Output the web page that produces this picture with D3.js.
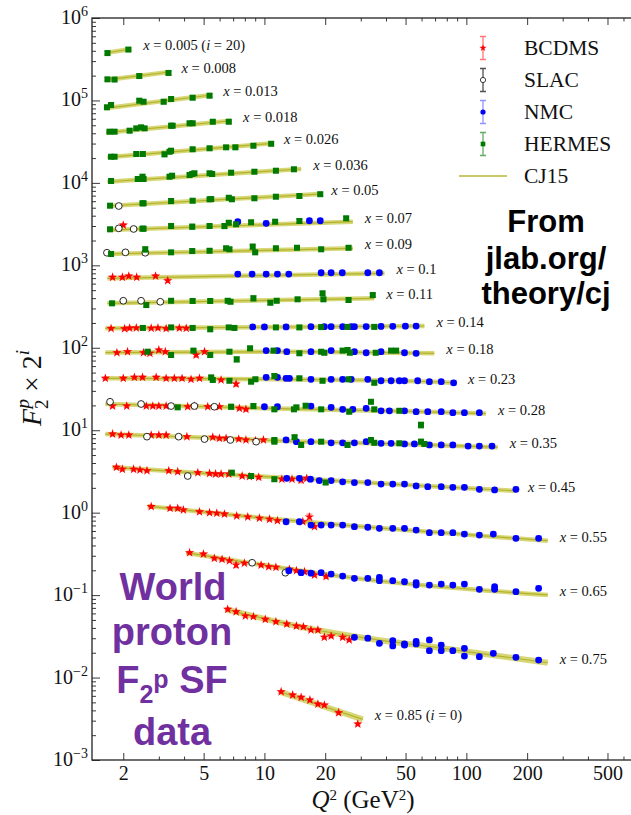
<!DOCTYPE html>
<html>
<head>
<meta charset="utf-8">
<script src="https://cdn.jsdelivr.net/npm/d3@7"></script>
<style>
  html, body { margin: 0; padding: 0; background: #fff; }
  svg { display: block; }
</style>
</head>
<body>
<svg id="chart" width="631" height="815"></svg>
<script>
// x bins, shown top to bottom, and the power i of the 2^i offset
const xBins = [0.005, 0.008, 0.013, 0.018, 0.026, 0.036, 0.05, 0.07, 0.09, 0.1, 0.11,
               0.14, 0.18, 0.23, 0.28, 0.35, 0.45, 0.55, 0.65, 0.75, 0.85];
const powers = [20, 19, 18, 17, 16, 15, 14, 13, 12, 11, 10, 9, 8, 7, 6, 5, 4, 3, 2, 1, 0];

// CJ15 curve for each bin: [Q2, F2] nodes
const cj15 = [
  [[1.63, 0.359], [2.19, 0.401]],
  [[1.64, 0.338], [3.39, 0.422]],
  [[1.63, 0.306], [5.45, 0.444]],
  [[1.645, 0.310], [6.84, 0.433]],
  [[1.67, 0.312], [10.9, 0.461]],
  [[1.67, 0.315], [15.2, 0.450]],
  [[1.67, 0.320], [18.7, 0.447]],
  [[1.67, 0.327], [27.4, 0.413]],
  [[1.67, 0.335], [27.4, 0.393]],
  [[1.67, 0.340], [39.3, 0.391]],
  [[1.67, 0.338], [35.0, 0.389]],
  [[1.63, 0.336], [62.0, 0.359]],
  [[1.63, 0.342], [12, 0.350], [69.4, 0.335]],
  [[1.63, 0.333], [4.77, 0.330], [14.9, 0.322], [46.6, 0.311], [88.9, 0.294]],
  [[1.63, 0.325], [4.77, 0.303], [14.9, 0.282], [46.6, 0.267], [125, 0.249]],
  [[1.63, 0.281], [4.77, 0.255], [14.9, 0.228], [46.6, 0.213], [143, 0.194]],
  [[1.77, 0.222], [4.77, 0.189], [14.9, 0.162], [46.6, 0.137], [176, 0.115]],
  [[2.64, 0.150], [8.27, 0.112], [24.4, 0.0885], [75.1, 0.0714], [253, 0.0571]],
  [[4.10, 0.0817], [11.4, 0.0548], [27.9, 0.0403], [253, 0.0251]],
  [[6.46, 0.0336], [17.0, 0.0194], [32.4, 0.0149], [75.1, 0.0114], [253, 0.00756]],
  [[11.9, 0.00673], [30.7, 0.00311]]
];

// measurements: [x, Q2, F2, error (optional)]
const bcdms = [
  [0.07, 2.0, 0.376],
  [0.1, 1.77, 0.350], [0.1, 1.98, 0.350], [0.1, 2.13, 0.362], [0.1, 2.33, 0.350], [0.1, 2.89, 0.362], [0.1, 3.32, 0.318, 0.015],
  [0.14, 1.74, 0.335], [0.14, 2.03, 0.333], [0.14, 2.15, 0.338], [0.14, 2.32, 0.340], [0.14, 2.75, 0.337], [0.14, 2.97, 0.340],
  [0.14, 3.26, 0.334], [0.14, 3.79, 0.338], [0.14, 4.10, 0.336],
  [0.18, 1.86, 0.340], [0.18, 2.10, 0.350], [0.18, 2.52, 0.340], [0.18, 2.71, 0.335], [0.18, 3.0, 0.367], [0.18, 3.23, 0.350],
  [0.18, 4.59, 0.319, 0.015], [0.18, 5.05, 0.350],
  [0.23, 1.63, 0.333], [0.23, 2.0, 0.333], [0.23, 2.27, 0.342], [0.23, 2.49, 0.342], [0.23, 2.91, 0.342], [0.23, 3.26, 0.333],
  [0.23, 3.58, 0.333], [0.23, 3.91, 0.333], [0.23, 4.33, 0.324], [0.23, 4.77, 0.333], [0.23, 6.10, 0.318], [0.23, 7.24, 0.284, 0.015],
  [0.28, 1.77, 0.307], [0.28, 2.08, 0.307], [0.28, 2.60, 0.307], [0.28, 2.80, 0.307], [0.28, 3.0, 0.307], [0.28, 3.26, 0.307],
  [0.28, 4.17, 0.301], [0.28, 4.5, 0.307], [0.28, 5.24, 0.301], [0.28, 5.99, 0.301], [0.28, 7.52, 0.288], [0.28, 8.10, 0.280],
  [0.35, 1.77, 0.281], [0.35, 1.95, 0.273], [0.35, 2.13, 0.273], [0.35, 2.75, 0.273], [0.35, 3.0, 0.273], [0.35, 3.26, 0.273],
  [0.35, 4.13, 0.261], [0.35, 5.55, 0.257], [0.35, 5.99, 0.249], [0.35, 6.46, 0.249], [0.35, 7.46, 0.244], [0.35, 8.10, 0.238],
  [0.35, 9.02, 0.233], [0.35, 9.89, 0.238],
  [0.45, 1.85, 0.222], [0.45, 1.98, 0.210], [0.45, 2.25, 0.210], [0.45, 2.42, 0.206], [0.45, 2.62, 0.202], [0.45, 3.36, 0.202],
  [0.45, 3.72, 0.196], [0.45, 4.68, 0.191], [0.45, 5.35, 0.187], [0.45, 5.73, 0.184], [0.45, 6.10, 0.184], [0.45, 6.66, 0.184],
  [0.45, 7.76, 0.174], [0.45, 8.43, 0.171], [0.45, 9.37, 0.168], [0.45, 12.2, 0.159], [0.45, 13.7, 0.159], [0.45, 15.2, 0.156, 0.012],
  [0.45, 16.2, 0.163],
  [0.55, 2.75, 0.148], [0.55, 3.41, 0.141], [0.55, 3.72, 0.141], [0.55, 3.97, 0.135], [0.55, 4.77, 0.128], [0.55, 5.35, 0.125],
  [0.55, 5.81, 0.123], [0.55, 6.34, 0.120], [0.55, 7.29, 0.114], [0.55, 8.27, 0.111], [0.55, 9.45, 0.107], [0.55, 10.6, 0.104],
  [0.55, 11.6, 0.0998], [0.55, 15.5, 0.0970], [0.55, 16.7, 0.111, 0.009], [0.55, 17.7, 0.0844],
  [0.65, 4.26, 0.0817], [0.65, 4.99, 0.0787], [0.65, 5.65, 0.0698], [0.65, 6.17, 0.0679], [0.65, 6.71, 0.0653], [0.65, 7.24, 0.0579, 0.004],
  [0.65, 7.96, 0.0609], [0.65, 9.63, 0.0579], [0.65, 10.5, 0.0552], [0.65, 11.4, 0.0544], [0.65, 13.3, 0.0514], [0.65, 14.4, 0.0494],
  [0.65, 15.8, 0.0480], [0.65, 17.7, 0.0438], [0.65, 20.2, 0.0419],
  [0.75, 6.58, 0.0336], [0.75, 7.24, 0.0314], [0.75, 8.05, 0.0279], [0.75, 8.82, 0.0274], [0.75, 10.1, 0.0254], [0.75, 11.4, 0.0238],
  [0.75, 12.9, 0.0223], [0.75, 14.4, 0.0211], [0.75, 15.6, 0.0206], [0.75, 17.0, 0.0189], [0.75, 18.4, 0.0189], [0.75, 19.8, 0.0154],
  [0.75, 21.4, 0.0159], [0.75, 24.4, 0.0154], [0.75, 26.3, 0.0143],
  [0.85, 12.1, 0.00673], [0.85, 13.8, 0.00614], [0.85, 15.2, 0.00575], [0.85, 16.8, 0.00534], [0.85, 18.4, 0.00477],
  [0.85, 19.8, 0.00464], [0.85, 23.3, 0.00374], [0.85, 29.0, 0.00273]
];

const slac = [
  [0.05, 1.90, 0.320],
  [0.07, 1.90, 0.343], [0.07, 2.25, 0.337],
  [0.09, 1.66, 0.347], [0.09, 2.05, 0.351], [0.09, 2.57, 0.347],
  [0.11, 2.0, 0.363], [0.11, 2.45, 0.363], [0.11, 3.05, 0.353],
  [0.28, 1.72, 0.346], [0.28, 2.45, 0.325], [0.28, 3.45, 0.307], [0.28, 4.5, 0.307], [0.28, 5.65, 0.301],
  [0.35, 2.62, 0.261], [0.35, 3.76, 0.261], [0.35, 5.05, 0.244], [0.35, 6.78, 0.238], [0.35, 9.10, 0.227],
  [0.45, 4.17, 0.174],
  [0.65, 8.69, 0.0617], [0.65, 12.7, 0.0467]
];

const nmc = [
  [0.07, 7.38, 0.413], [0.07, 10.2, 0.395], [0.07, 16.7, 0.424], [0.07, 18.9, 0.424],
  [0.1, 7.38, 0.383], [0.1, 8.69, 0.383], [0.1, 10.2, 0.383], [0.1, 11.6, 0.383], [0.1, 13.2, 0.383], [0.1, 19.1, 0.397],
  [0.1, 21.4, 0.397], [0.1, 24.3, 0.397], [0.1, 32.5, 0.397], [0.1, 37.1, 0.397],
  [0.14, 8.75, 0.350], [0.14, 10.0, 0.350], [0.14, 12.8, 0.350], [0.14, 17.0, 0.352], [0.14, 19.8, 0.352], [0.14, 21.4, 0.352],
  [0.14, 24.4, 0.352], [0.14, 26.9, 0.352], [0.14, 27.9, 0.352], [0.14, 31.9, 0.353], [0.14, 37.8, 0.355], [0.14, 43.2, 0.356],
  [0.14, 49.9, 0.357], [0.14, 56.4, 0.358],
  [0.18, 10.2, 0.361], [0.18, 11.6, 0.361], [0.18, 12.9, 0.350], [0.18, 17.0, 0.350], [0.18, 21.4, 0.361], [0.18, 27.9, 0.350],
  [0.18, 31.9, 0.340], [0.18, 37.8, 0.350], [0.18, 49.4, 0.340], [0.18, 56.4, 0.335],
  [0.23, 10.2, 0.342], [0.23, 11.6, 0.342], [0.23, 12.8, 0.333], [0.23, 13.3, 0.333], [0.23, 17.0, 0.324], [0.23, 21.4, 0.324],
  [0.23, 24.4, 0.324], [0.23, 26.9, 0.324], [0.23, 32.5, 0.324], [0.23, 37.8, 0.311], [0.23, 42.4, 0.311], [0.23, 46.6, 0.311],
  [0.23, 49.4, 0.311], [0.23, 57.4, 0.311], [0.23, 65.6, 0.303], [0.23, 75.1, 0.303], [0.23, 86.5, 0.294],
  [0.28, 10.0, 0.301], [0.28, 11.6, 0.301], [0.28, 17.0, 0.307], [0.28, 21.4, 0.296], [0.28, 24.4, 0.280], [0.28, 27.4, 0.280],
  [0.28, 31.9, 0.288], [0.28, 37.8, 0.269], [0.28, 41.6, 0.269], [0.28, 49.4, 0.269], [0.28, 56.4, 0.262], [0.28, 64.4, 0.262],
  [0.28, 75.1, 0.262], [0.28, 85.7, 0.255], [0.28, 97.8, 0.255], [0.28, 116, 0.255],
  [0.35, 12.8, 0.238], [0.35, 14.4, 0.227], [0.35, 17.0, 0.227], [0.35, 21.4, 0.220], [0.35, 24.4, 0.220], [0.35, 27.9, 0.220],
  [0.35, 31.9, 0.227], [0.35, 37.8, 0.217], [0.35, 42.4, 0.217], [0.35, 49.4, 0.213], [0.35, 55.3, 0.213], [0.35, 65.6, 0.207],
  [0.35, 75.1, 0.207], [0.35, 85.7, 0.207], [0.35, 102, 0.201], [0.35, 116, 0.201], [0.35, 134, 0.201],
  [0.45, 12.9, 0.163], [0.45, 14.9, 0.163], [0.45, 16.9, 0.159], [0.45, 18.7, 0.153], [0.45, 21.4, 0.153], [0.45, 24.4, 0.148],
  [0.45, 27.9, 0.145], [0.45, 32.5, 0.145], [0.45, 37.8, 0.139], [0.45, 43.2, 0.139], [0.45, 49.4, 0.139], [0.45, 56.4, 0.132],
  [0.45, 64.4, 0.129], [0.45, 75.1, 0.129], [0.45, 85.7, 0.127], [0.45, 97.8, 0.127], [0.45, 116, 0.120], [0.45, 138, 0.118],
  [0.45, 176, 0.120],
  [0.55, 12.8, 0.0970], [0.55, 14.9, 0.0970], [0.55, 17.0, 0.0885], [0.55, 19.1, 0.0885], [0.55, 21.4, 0.0885], [0.55, 24.4, 0.0885],
  [0.55, 27.9, 0.0844], [0.55, 32.5, 0.0832], [0.55, 37.1, 0.0807], [0.55, 43.2, 0.0807], [0.55, 49.4, 0.0807], [0.55, 56.4, 0.0770],
  [0.55, 65.6, 0.0714], [0.55, 75.1, 0.0714], [0.55, 85.7, 0.0714], [0.55, 97.8, 0.0688], [0.55, 116, 0.0669], [0.55, 136, 0.0688],
  [0.55, 176, 0.0610], [0.55, 228, 0.0610],
  [0.65, 13.2, 0.0494], [0.65, 15.2, 0.0467], [0.65, 17.0, 0.0461], [0.65, 19.1, 0.0467], [0.65, 21.4, 0.0450], [0.65, 24.4, 0.0426],
  [0.65, 27.9, 0.0400], [0.65, 32.5, 0.0400], [0.65, 37.1, 0.0411], [0.65, 37.1, 0.0374], [0.65, 43.2, 0.0374], [0.65, 49.4, 0.0363],
  [0.65, 56.4, 0.0355], [0.65, 56.4, 0.0331], [0.65, 65.6, 0.0331], [0.65, 75.1, 0.0340], [0.65, 85.7, 0.0331], [0.65, 97.8, 0.0340],
  [0.65, 116, 0.0294], [0.65, 138, 0.0316], [0.65, 138, 0.0294], [0.65, 176, 0.0275], [0.65, 228, 0.0302],
  [0.75, 27.9, 0.0154], [0.75, 32.5, 0.0150], [0.75, 37.1, 0.0130], [0.75, 43.2, 0.0140], [0.75, 43.2, 0.0121], [0.75, 49.4, 0.0128],
  [0.75, 49.4, 0.0124], [0.75, 56.4, 0.0137], [0.75, 56.4, 0.0128], [0.75, 65.6, 0.0143], [0.75, 65.6, 0.0106], [0.75, 75.1, 0.0124],
  [0.75, 75.1, 0.0106], [0.75, 85.7, 0.0106], [0.75, 97.8, 0.0113], [0.75, 97.8, 0.00912], [0.75, 116, 0.00897], [0.75, 136, 0.00984],
  [0.75, 176, 0.00880], [0.75, 228, 0.00816]
];

const hermes = [
  [0.005, 1.67, 0.358], [0.005, 2.12, 0.395],
  [0.008, 1.67, 0.344], [0.008, 1.81, 0.342], [0.008, 2.40, 0.377], [0.008, 3.35, 0.411],
  [0.013, 1.66, 0.315], [0.013, 1.74, 0.336], [0.013, 2.40, 0.379], [0.013, 2.52, 0.368], [0.013, 3.17, 0.368, 0.02],
  [0.013, 3.45, 0.397], [0.013, 4.41, 0.412], [0.013, 5.35, 0.436],
  [0.018, 1.71, 0.319], [0.018, 1.81, 0.319], [0.018, 2.15, 0.328], [0.018, 2.32, 0.350], [0.018, 2.45, 0.360], [0.018, 2.55, 0.350],
  [0.018, 3.45, 0.377], [0.018, 3.51, 0.377], [0.018, 4.26, 0.403], [0.018, 4.41, 0.403], [0.018, 5.55, 0.421], [0.018, 6.66, 0.421],
  [0.026, 1.74, 0.317], [0.026, 1.81, 0.317], [0.026, 2.32, 0.342], [0.026, 2.50, 0.342], [0.026, 3.20, 0.339, 0.02],
  [0.026, 3.39, 0.364], [0.026, 3.45, 0.375], [0.026, 4.41, 0.390], [0.026, 5.35, 0.401], [0.026, 6.46, 0.412], [0.026, 7.18, 0.412],
  [0.026, 8.82, 0.431], [0.026, 10.8, 0.455],
  [0.036, 1.74, 0.322], [0.036, 2.36, 0.340], [0.036, 2.49, 0.363], [0.036, 2.52, 0.340], [0.036, 3.39, 0.363], [0.036, 3.49, 0.373],
  [0.036, 4.26, 0.380], [0.036, 4.39, 0.391], [0.036, 4.50, 0.399], [0.036, 5.35, 0.399], [0.036, 5.51, 0.391], [0.036, 6.84, 0.406],
  [0.036, 8.92, 0.417, 0.02], [0.036, 11.4, 0.429], [0.036, 14.0, 0.446],
  [0.05, 1.72, 0.323], [0.05, 2.49, 0.345], [0.05, 2.52, 0.345], [0.05, 3.45, 0.368, 0.025], [0.05, 4.41, 0.371], [0.05, 5.35, 0.386],
  [0.05, 5.45, 0.388], [0.05, 6.66, 0.403], [0.05, 6.90, 0.386], [0.05, 8.92, 0.397], [0.05, 11.4, 0.415], [0.05, 14.9, 0.423],
  [0.05, 18.9, 0.445],
  [0.07, 1.72, 0.334], [0.07, 2.49, 0.340], [0.07, 2.52, 0.340], [0.07, 3.45, 0.366], [0.07, 4.39, 0.359, 0.025], [0.07, 5.35, 0.366],
  [0.07, 6.34, 0.366, 0.025], [0.07, 6.66, 0.401], [0.07, 7.24, 0.384], [0.07, 8.59, 0.406], [0.07, 11.3, 0.413], [0.07, 14.9, 0.421],
  [0.07, 25.4, 0.454],
  [0.09, 1.74, 0.335], [0.09, 2.57, 0.382, 0.03], [0.09, 3.45, 0.351], [0.09, 4.39, 0.364], [0.09, 5.35, 0.367], [0.09, 6.46, 0.393],
  [0.09, 6.71, 0.382], [0.09, 8.75, 0.411, 0.03], [0.09, 9.0, 0.351], [0.09, 11.4, 0.393], [0.09, 14.5, 0.399], [0.09, 19.1, 0.382],
  [0.09, 26.1, 0.399],
  [0.11, 1.76, 0.338], [0.11, 2.60, 0.322], [0.11, 3.45, 0.363], [0.11, 4.41, 0.361], [0.11, 5.39, 0.361], [0.11, 6.58, 0.363],
  [0.11, 6.79, 0.353], [0.11, 8.82, 0.389, 0.03], [0.11, 10.7, 0.344, 0.02], [0.11, 11.5, 0.363], [0.11, 14.6, 0.378],
  [0.11, 19.4, 0.447, 0.025], [0.11, 19.6, 0.378], [0.11, 26.1, 0.371], [0.11, 34.4, 0.426, 0.02],
  [0.14, 2.50, 0.340], [0.14, 3.45, 0.345], [0.14, 4.41, 0.340], [0.14, 5.39, 0.328, 0.02], [0.14, 6.66, 0.345], [0.14, 7.10, 0.340],
  [0.14, 11.4, 0.345], [0.14, 14.9, 0.345], [0.14, 19.1, 0.348], [0.14, 25.8, 0.350], [0.14, 35.0, 0.350],
  [0.18, 2.64, 0.350], [0.18, 3.45, 0.319], [0.18, 4.45, 0.361], [0.18, 5.39, 0.319, 0.02], [0.18, 6.71, 0.350],
  [0.18, 7.29, 0.283, 0.02], [0.18, 8.49, 0.385, 0.02], [0.18, 11.1, 0.361], [0.18, 14.9, 0.335], [0.18, 19.1, 0.350],
  [0.18, 19.8, 0.340], [0.18, 24.4, 0.361], [0.18, 25.8, 0.367], [0.18, 26.5, 0.340], [0.18, 35.6, 0.340], [0.18, 42.4, 0.361],
  [0.18, 44.9, 0.361],
  [0.23, 5.45, 0.342], [0.23, 5.55, 0.318], [0.23, 6.71, 0.311], [0.23, 8.59, 0.303], [0.23, 9.02, 0.324], [0.23, 11.2, 0.355, 0.02],
  [0.23, 14.9, 0.333], [0.23, 19.4, 0.311], [0.23, 26.1, 0.324], [0.23, 35.0, 0.294],
  [0.28, 3.72, 0.296], [0.28, 6.84, 0.301, 0.02], [0.28, 8.82, 0.307, 0.02], [0.28, 11.2, 0.280], [0.28, 14.0, 0.280],
  [0.28, 14.4, 0.296], [0.28, 16.0, 0.310], [0.28, 19.1, 0.280], [0.28, 26.3, 0.262], [0.28, 33.7, 0.346, 0.02], [0.28, 35.0, 0.280],
  [0.28, 46.6, 0.269], [0.28, 59.6, 0.181, 0.015],
  [0.35, 11.2, 0.238], [0.35, 11.2, 0.227], [0.35, 14.1, 0.257, 0.015], [0.35, 15.2, 0.207], [0.35, 19.1, 0.227], [0.35, 25.8, 0.207],
  [0.35, 33.7, 0.238], [0.35, 35.0, 0.220], [0.35, 46.6, 0.217], [0.35, 59.6, 0.227, 0.015], [0.35, 62.0, 0.213],
  [0.45, 6.90, 0.191], [0.45, 8.59, 0.174], [0.45, 11.2, 0.159], [0.45, 20.1, 0.145]
];

const experimentNames = ["BCDMS", "SLAC", "NMC", "HERMES"];
const typicalRelError = [0.03, 0.03, 0.06, 0.05];

const xTickValues = [2, 5, 10, 20, 50, 100, 200, 500];
const xTickLabels = ["2", "5", "10", "20", "50", "100", "200", "500"];
const yExponents = [-3, -2, -1, 0, 1, 2, 3, 4, 5, 6];

// ---------------------------------------------------------------

const serif = "'Liberation Serif', 'DejaVu Serif', serif";
const sans = "'Liberation Sans', Arial, sans-serif";

const svg = d3.select("#chart");
svg.append("rect").attr("width", 631).attr("height", 815).attr("fill", "#fff");

const x = d3.scaleLog().domain([1.4, 700]).range([92, 637]);
const y = d3.scaleLog().domain([1e-3, 1e6]).range([760, 18]);

const binIndex = xb => xBins.indexOf(xb);
const offset = xb => 2 ** powers[binIndex(xb)];

// --- axes -------------------------------------------------------
const xMinor = x.ticks().filter(t => !xTickValues.includes(t));
const yMajor = yExponents.map(e => 10 ** e);
const yMinor = y.ticks().filter(t => !yMajor.some(m => Math.abs(m - t) / m < 1e-6));

const axes = svg.append("g").attr("class", "axes");

function tickGroup(axis, tr) {
  const g = axes.append("g").attr("transform", tr).call(axis);
  g.select(".domain").remove();
  g.selectAll("line").attr("stroke", "#222").attr("stroke-width", 0.9);
  return g;
}

tickGroup(d3.axisBottom(x).tickValues(xTickValues).tickSize(-7).tickPadding(6)
  .tickFormat((d, i) => xTickLabels[i]), "translate(0,760)")
  .selectAll("text").attr("font-family", serif).attr("font-size", 20).attr("fill", "#111");
tickGroup(d3.axisBottom(x).tickValues(xMinor).tickSize(-3.5).tickFormat(""), "translate(0,760)");
tickGroup(d3.axisTop(x).tickValues(xTickValues).tickSize(-7).tickFormat(""), "translate(0,18)");
tickGroup(d3.axisTop(x).tickValues(xMinor).tickSize(-3.5).tickFormat(""), "translate(0,18)");
tickGroup(d3.axisLeft(y).tickValues(yMajor).tickSize(-8).tickFormat(""), "translate(92,0)");
tickGroup(d3.axisLeft(y).tickValues(yMinor).tickSize(-4).tickFormat(""), "translate(92,0)");

axes.append("rect")
  .attr("x", 92).attr("y", 18).attr("width", 637 - 92).attr("height", 760 - 18)
  .attr("fill", "none").attr("stroke", "#222").attr("stroke-width", 1.3);

// y tick labels 10^n
axes.append("g").selectAll("text")
  .data(yExponents)
  .join("text")
  .attr("x", 88)
  .attr("y", d => y(10 ** d) + 6)
  .attr("text-anchor", "end")
  .attr("font-family", serif)
  .attr("font-size", 20)
  .attr("fill", "#111")
  .each(function(d) {
    const t = d3.select(this);
    t.append("tspan").text("10");
    t.append("tspan").attr("dy", -8).attr("font-size", 14)
      .text(d < 0 ? "\u2212" + Math.abs(d) : String(d));
  });

// axis titles
const xTitle = svg.append("text")
  .attr("x", 363).attr("y", 808)
  .attr("text-anchor", "middle")
  .attr("font-family", serif).attr("font-size", 25).attr("fill", "#111");
xTitle.append("tspan").attr("font-style", "italic").text("Q");
xTitle.append("tspan").attr("dy", -8).attr("font-size", 15).text("2");
xTitle.append("tspan").attr("dy", 8).text(" (GeV");
xTitle.append("tspan").attr("dy", -8).attr("font-size", 15).text("2");
xTitle.append("tspan").attr("dy", 8).text(")");

const yTitle = svg.append("text")
  .attr("transform", "translate(41,388) rotate(-90)")
  .attr("text-anchor", "middle")
  .attr("font-family", serif).attr("font-size", 28).attr("fill", "#111");
yTitle.append("tspan").attr("font-style", "italic").text("F");
yTitle.append("tspan").attr("dy", 7).attr("font-size", 19).text("2");
yTitle.append("tspan").attr("dx", -9).attr("dy", -19).attr("font-size", 19).attr("font-style", "italic").text("p");
yTitle.append("tspan").attr("dy", 12).text(" \u00d7 2");
yTitle.append("tspan").attr("dy", -12).attr("font-size", 19).attr("font-style", "italic").text("i");

// --- CJ15 curves ------------------------------------------------
const line = d3.line()
  .x(d => x(d[0]))
  .y(d => d[1])
  .curve(d3.curveMonotoneX);

const curves = cj15.map((nodes, i) => nodes.map(n => [n[0], y(n[1] * 2 ** powers[i])]));

const theory = svg.append("g").attr("class", "cj15");
theory.selectAll("path.band")
  .data(curves)
  .join("path")
  .attr("class", "band")
  .attr("d", line)
  .attr("fill", "none")
  .attr("stroke", "#c9c94a")
  .attr("stroke-opacity", 0.75)
  .attr("stroke-linecap", "butt")
  .attr("stroke-width", (d, i) => powers[i] <= 1 ? 6 : 4.5);
theory.selectAll("path.center")
  .data(curves)
  .join("path")
  .attr("class", "center")
  .attr("d", line)
  .attr("fill", "none")
  .attr("stroke", "#b3b32c")
  .attr("stroke-width", 1.2);

// --- bin labels -------------------------------------------------
svg.append("g").attr("class", "bin-labels")
  .selectAll("text")
  .data(xBins)
  .join("text")
  .attr("x", (d, i) => x(cj15[i][cj15[i].length - 1][0]) + 12)
  .attr("y", (d, i) => y(cj15[i][cj15[i].length - 1][1] * 2 ** powers[i]) - 4)
  .attr("dominant-baseline", "central")
  .attr("font-family", serif)
  .attr("font-size", 14.5)
  .attr("fill", "#111")
  .each(function(d, i) {
    const t = d3.select(this);
    t.append("tspan").attr("font-style", "italic").text("x");
    t.append("tspan").text(" = " + d);
    if (i === 0 || i === xBins.length - 1) {
      t.append("tspan").text(" (");
      t.append("tspan").attr("font-style", "italic").text("i");
      t.append("tspan").text(" = " + powers[i] + ")");
    }
  });

// --- data points ------------------------------------------------
const styles = {
  BCDMS:  {data: bcdms,  fill: "#ff0000", stroke: "none", bar: "#ff4a4a", barOpacity: 0.6, symbol: d3.symbolStar, size: 27},
  SLAC:   {data: slac,   fill: "#ffffff", stroke: "#111", bar: "#333", barOpacity: 0.7, symbol: d3.symbolCircle, size: 36},
  NMC:    {data: nmc,    fill: "#0000ff", stroke: "none", bar: "#5a5aff", barOpacity: 0.5, symbol: d3.symbolCircle, size: 36},
  HERMES: {data: hermes, fill: "#007a00", stroke: "none", bar: "#2f8f2f", barOpacity: 0.6, symbol: d3.symbolSquare, size: 36}
};

const points = svg.append("g").attr("class", "points");

experimentNames.forEach((name, k) => {
  const s = styles[name];
  const g = points.append("g").attr("class", name.toLowerCase());
  const rows = s.data.map(d => {
    const f = offset(d[0]);
    const err = d[3] !== undefined ? d[3] : d[2] * typicalRelError[k];
    return {px: x(d[1]), py: y(d[2] * f), lo: y((d[2] - err) * f), hi: y((d[2] + err) * f)};
  });

  g.selectAll("path.err")
    .data(rows)
    .join("path")
    .attr("class", "err")
    .attr("d", d => `M${d.px - 3},${d.hi}H${d.px + 3}M${d.px},${d.hi}V${d.lo}M${d.px - 3},${d.lo}H${d.px + 3}`)
    .attr("fill", "none")
    .attr("stroke", s.bar)
    .attr("stroke-opacity", s.barOpacity)
    .attr("stroke-width", 1.4);

  g.selectAll("path.mark")
    .data(rows)
    .join("path")
    .attr("class", "mark")
    .attr("transform", d => `translate(${d.px},${d.py})`)
    .attr("d", d3.symbol(s.symbol, s.size))
    .attr("fill", s.fill)
    .attr("stroke", s.stroke)
    .attr("stroke-width", 0.9);
});

// --- legend -----------------------------------------------------
const legend = svg.append("g").attr("class", "legend").attr("transform", "translate(483,48)");
const rowGap = 32;

experimentNames.forEach((name, k) => {
  const s = styles[name];
  const g = legend.append("g").attr("transform", `translate(0,${k * rowGap})`);
  g.append("path")
    .attr("d", "M-3,-11.5H3M0,-11.5V11.5M-3,11.5H3")
    .attr("fill", "none")
    .attr("stroke", s.bar)
    .attr("stroke-opacity", s.barOpacity + 0.15)
    .attr("stroke-width", 1.3);
  g.append("path")
    .attr("d", d3.symbol(s.symbol, s.size * 0.6))
    .attr("fill", s.fill)
    .attr("stroke", s.stroke)
    .attr("stroke-width", 0.8);
  g.append("text")
    .attr("x", 41).attr("y", 7)
    .attr("font-family", serif).attr("font-size", 21.5).attr("fill", "#111")
    .text(name);
});

const cjRow = legend.append("g").attr("transform", `translate(0,${4 * rowGap})`);
cjRow.append("line")
  .attr("x1", -24).attr("x2", 24)
  .attr("stroke", "#c9c96a").attr("stroke-width", 2);
cjRow.append("text")
  .attr("x", 41).attr("y", 7)
  .attr("font-family", serif).attr("font-size", 21.5).attr("fill", "#111")
  .text("CJ15");

// --- annotations ------------------------------------------------
const source = svg.append("text")
  .attr("text-anchor", "middle")
  .attr("font-family", sans).attr("font-weight", "bold")
  .attr("font-size", 31).attr("fill", "#000");
source.append("tspan").attr("x", 546).attr("y", 232).text("From");
source.append("tspan").attr("x", 546).attr("y", 269).text("jlab.org/");
source.append("tspan").attr("x", 546).attr("y", 304).text("theory/cj");

const note = svg.append("text")
  .attr("text-anchor", "middle")
  .attr("font-family", sans).attr("font-weight", "bold")
  .attr("font-size", 38).attr("fill", "#7030a0");
note.append("tspan").attr("x", 173).attr("y", 600).text("World");
note.append("tspan").attr("x", 172).attr("y", 645).text("proton");
const f2 = svg.append("text")
  .attr("x", 172).attr("y", 693)
  .attr("text-anchor", "middle")
  .attr("font-family", sans).attr("font-weight", "bold")
  .attr("font-size", 38).attr("fill", "#7030a0");
f2.append("tspan").text("F");
f2.append("tspan").attr("dy", 10).attr("font-size", 25).text("2");
f2.append("tspan").attr("dy", -15).attr("font-size", 25).text("p");
f2.append("tspan").attr("dy", 5).text(" SF");
note.append("tspan").attr("x", 172).attr("y", 745).text("data");
</script>
</body>
</html>
